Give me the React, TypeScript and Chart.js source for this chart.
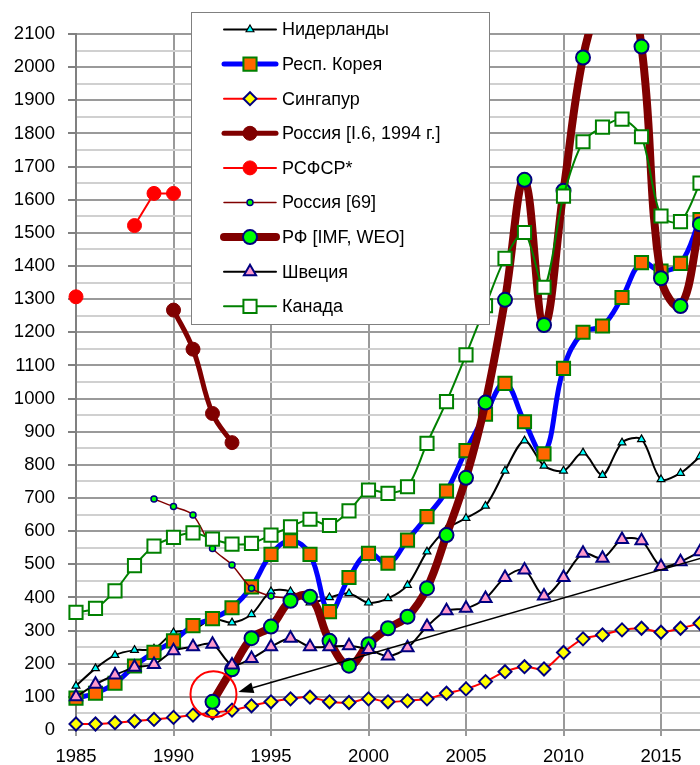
import React, { useEffect, useRef } from 'react';
import { Chart, registerables } from 'chart.js';
import { drawPoint } from 'chart.js/helpers';

Chart.register(...registerables);

const years = [
  1985, 1986, 1987, 1988, 1989, 1990, 1991, 1992, 1993, 1994, 1995,
  1996, 1997, 1998, 1999, 2000, 2001, 2002, 2003, 2004, 2005, 2006,
  2007, 2008, 2009, 2010, 2011, 2012, 2013, 2014, 2015, 2016, 2017,
];

const netherlands = [
  133, 186, 226, 241, 245, 294, 302, 335, 324, 349, 418,
  418, 384, 400, 412, 384, 397, 437, 538, 606, 639, 676,
  782, 873, 797, 782, 837, 769, 867, 877, 756, 775, 825,
];
const korea = [
  96, 111, 141, 193, 234, 269, 315, 336, 369, 432, 530,
  571, 530, 357, 460, 533, 503, 573, 644, 721, 843, 953,
  1046, 930, 833, 1091, 1200, 1219, 1305, 1410, 1385, 1408, 1540,
];
const singapore = [
  18, 18, 22, 27, 32, 38, 45, 52, 60, 73, 85,
  94, 99, 85, 83, 94, 85, 88, 94, 111, 124, 146,
  176, 191, 184, 234, 275, 287, 302, 307, 295, 307, 322,
];
const russiaI6 = [
  null, null, null, null, null, 1267, 1149, 955, 867, null, null,
  null, null, null, null, null, null, null, null, null, null, null,
  null, null, null, null, null, null, null, null, null, null, null,
];
const rsfsr = [
  1307, null, null, 1522, 1619, 1619, null, null, null, null, null,
  null, null, null, null, null, null, null, null, null, null, null,
  null, null, null, null, null, null, null, null, null, null, null,
];
const russia69 = [
  null, null, null, null, 697, 674, 649, 548, 498, 428, 404,
  398, null, null, null, null, null, null, null, null, null, null,
  null, null, null, null, null, null, null, null, null, null, null,
];
const rfImf = [
  null, null, null, null, null, null, null, 85, 183, 277, 312,
  390, 402, 269, 194, 259, 307, 342, 428, 588, 761, 988,
  1298, 1660, 1222, 1627, 2029, 2210, 2290, 2062, 1363, 1279, 1526,
];
const sweden = [
  100, 138, 166, 189, 198, 239, 251, 259, 196, 216, 251,
  277, 251, 251, 254, 243, 223, 248, 312, 360, 367, 397,
  460, 483, 404, 460, 533, 518, 575, 571, 493, 508, 538,
];
const canada = [
  355, 367, 420, 496, 555, 581, 595, 576, 561, 563, 588,
  613, 636, 617, 661, 724, 714, 734, 865, 991, 1132, 1280,
  1423, 1501, 1336, 1611, 1775, 1819, 1843, 1790, 1551, 1534, 1650,
];

const labels = [
  'Нидерланды',
  'Респ. Корея',
  'Сингапур',
  'Россия [I.6, 1994 г.]',
  'РСФСР*',
  'Россия [69]',
  'РФ [IMF, WEO]',
  'Швеция',
  'Канада',
];

// annotation (data units)
const circleCenter = [1992.05, 108];
const arrowFrom = [2017.1, 519];
const arrowTo = [1993.33, 115];

const FONT = '"Liberation Sans", Arial, sans-serif';

const toPts = (arr: (number | null)[]) => years.map((yr, i) => ({ x: yr, y: arr[i] }));

const annotPlugin = {
  id: 'annot',
  afterDatasetsDraw(chart: any) {
    const { ctx } = chart;
    const xs = chart.scales.x;
    const ys = chart.scales.y;
    ctx.save();
    const cx = xs.getPixelForValue(circleCenter[0]);
    const cy = ys.getPixelForValue(circleCenter[1]);
    ctx.strokeStyle = '#FF0000';
    ctx.lineWidth = 2;
    ctx.beginPath();
    ctx.arc(cx, cy, 23, 0, Math.PI * 2);
    ctx.stroke();

    const x1 = xs.getPixelForValue(arrowFrom[0]);
    const y1 = ys.getPixelForValue(arrowFrom[1]);
    const x2 = xs.getPixelForValue(arrowTo[0]);
    const y2 = ys.getPixelForValue(arrowTo[1]);
    const ang = Math.atan2(y2 - y1, x2 - x1);
    const L = 15;
    const W = 5.5;
    const bx = x2 - Math.cos(ang) * L;
    const by = y2 - Math.sin(ang) * L;
    ctx.strokeStyle = '#000000';
    ctx.lineWidth = 1.5;
    ctx.beginPath();
    ctx.moveTo(x1, y1);
    ctx.lineTo(bx, by);
    ctx.stroke();
    ctx.fillStyle = '#000000';
    ctx.beginPath();
    ctx.moveTo(x2, y2);
    ctx.lineTo(bx + Math.sin(ang) * W, by - Math.cos(ang) * W);
    ctx.lineTo(bx - Math.sin(ang) * W, by + Math.cos(ang) * W);
    ctx.closePath();
    ctx.fill();
    ctx.restore();
  },
};

const legendPlugin = {
  id: 'customLegend',
  afterDraw(chart: any) {
    const { ctx } = chart;
    const bx = 191.5, by = 12.5, bw = 298, bh = 312;
    ctx.save();
    ctx.fillStyle = '#FFFFFF';
    ctx.fillRect(bx, by, bw, bh);
    ctx.strokeStyle = '#808080';
    ctx.lineWidth = 1;
    ctx.strokeRect(bx, by, bw, bh);
    const ds = chart.data.datasets;
    ds.forEach((d: any, i: number) => {
      const y = 29.5 + i * 34.6;
      ctx.strokeStyle = d.borderColor;
      ctx.lineWidth = d.borderWidth;
      ctx.lineCap = 'round';
      ctx.beginPath();
      ctx.moveTo(224, y);
      ctx.lineTo(276, y);
      ctx.stroke();
      ctx.fillStyle = d.pointBackgroundColor;
      ctx.strokeStyle = d.pointBorderColor;
      ctx.lineWidth = d.pointBorderWidth;
      drawPoint(ctx, {
        pointStyle: d.pointStyle,
        radius: d.pointRadius,
        borderWidth: d.pointBorderWidth,
        rotation: 0,
      }, 250, y);
      ctx.fillStyle = '#000000';
      ctx.font = `18px ${FONT}`;
      ctx.textAlign = 'left';
      ctx.textBaseline = 'middle';
      ctx.fillText(d.label, 282, y + 1);
    });
    ctx.restore();
  },
};

export default function App() {
  const ref = useRef<HTMLCanvasElement | null>(null);
  useEffect(() => {
    document.documentElement.style.overflow = 'hidden';
    const clip = { left: false, top: 0, right: false, bottom: false };
    const mk = (i: number, data: (number | null)[], o: any) => ({
      label: labels[i],
      data: toPts(data),
      order: 9 - i,
      clip,
      spanGaps: false,
      fill: false,
      ...o,
    });
    const datasets = [
      mk(0, netherlands, {
        borderColor: '#000000', borderWidth: 2, tension: 0.3,
        pointStyle: 'triangle', pointRadius: 4.5,
        pointBackgroundColor: '#00FFFF', pointBorderColor: '#000000', pointBorderWidth: 1.2,
      }),
      mk(1, korea, {
        borderColor: '#0000FF', borderWidth: 5, tension: 0.4,
        pointStyle: 'rect', pointRadius: 9.3,
        pointBackgroundColor: '#FF6600', pointBorderColor: '#008000', pointBorderWidth: 2,
      }),
      mk(2, singapore, {
        borderColor: '#FF0000', borderWidth: 2, tension: 0.3,
        pointStyle: 'rectRot', pointRadius: 6.5,
        pointBackgroundColor: '#FFFF00', pointBorderColor: '#000080', pointBorderWidth: 2,
      }),
      mk(3, russiaI6, {
        borderColor: '#800000', borderWidth: 5, tension: 0.4,
        pointStyle: 'circle', pointRadius: 7,
        pointBackgroundColor: '#800000', pointBorderColor: '#800000', pointBorderWidth: 1,
      }),
      mk(4, rsfsr, {
        borderColor: '#FF0000', borderWidth: 2, tension: 0,
        pointStyle: 'circle', pointRadius: 7,
        pointBackgroundColor: '#FF0000', pointBorderColor: '#FF0000', pointBorderWidth: 1,
      }),
      mk(5, russia69, {
        borderColor: '#800000', borderWidth: 1.5, tension: 0.3,
        pointStyle: 'circle', pointRadius: 3,
        pointBackgroundColor: '#00FF00', pointBorderColor: '#000080', pointBorderWidth: 1.5,
      }),
      mk(6, rfImf, {
        borderColor: '#800000', borderWidth: 8, tension: 0.4,
        pointStyle: 'circle', pointRadius: 7,
        pointBackgroundColor: '#00FF00', pointBorderColor: '#000080', pointBorderWidth: 2,
      }),
      mk(7, sweden, {
        borderColor: '#000000', borderWidth: 2, tension: 0.3,
        pointStyle: 'triangle', pointRadius: 7,
        pointBackgroundColor: '#FF99CC', pointBorderColor: '#000080', pointBorderWidth: 2,
      }),
      mk(8, canada, {
        borderColor: '#008000', borderWidth: 2, tension: 0.3,
        pointStyle: 'rect', pointRadius: 9.3,
        pointBackgroundColor: '#FFFFFF', pointBorderColor: '#008000', pointBorderWidth: 2,
      }),
    ];

    const chart = new Chart(ref.current as HTMLCanvasElement, {
      type: 'line',
      data: { datasets },
      plugins: [annotPlugin, legendPlugin],
      options: {
        animation: false,
        responsive: false,
        maintainAspectRatio: false,
        layout: { autoPadding: false, padding: { top: 34, right: 0, left: 0, bottom: 0 } },
        plugins: { legend: { display: false }, tooltip: { enabled: false } },
        elements: { point: { hoverRadius: 0 } },
        scales: {
          x: {
            type: 'linear',
            min: 1985,
            max: 2017,
            afterFit: (s: any) => { s.height = 35; s.paddingRight = 0; s.paddingLeft = 0; },
            grid: { color: '#9a9a9a', lineWidth: 2, tickLength: 6, tickColor: '#9a9a9a' },
            border: { display: false },
            ticks: {
              stepSize: 5,
              includeBounds: false,
              autoSkip: false,
              maxRotation: 0,
              padding: 10,
              color: '#000000',
              font: { family: FONT, size: 18.5 },
              callback: (v: any) => String(v),
            },
          },
          y: {
            type: 'linear',
            min: 0,
            max: 2100,
            afterFit: (s: any) => { s.width = 76; s.paddingTop = 0; s.paddingBottom = 0; },
            grid: {
              lineWidth: 2,
              tickLength: 8,
              color: (c: any) => (c.tick && c.tick.value % 100 === 0 ? '#9a9a9a' : '#d0d0d0'),
              tickColor: (c: any) => (c.tick && c.tick.value % 100 === 0 ? '#808080' : 'rgba(0,0,0,0)'),
            },
            border: { display: true, color: '#808080', width: 2 },
            ticks: {
              stepSize: 50,
              autoSkip: false,
              padding: 13,
              color: '#000000',
              font: { family: FONT, size: 18.5 },
              callback: (v: any) => (v % 100 === 0 ? String(v) : ''),
            },
          },
        },
      },
    });
    return () => chart.destroy();
  }, []);

  return (
    <div style={{ position: 'fixed', left: 0, top: 0, width: 700, height: 765, background: '#fff' }}>
      <canvas ref={ref} width={700} height={765} style={{ display: 'block', width: 700, height: 765 }} />
    </div>
  );
}
